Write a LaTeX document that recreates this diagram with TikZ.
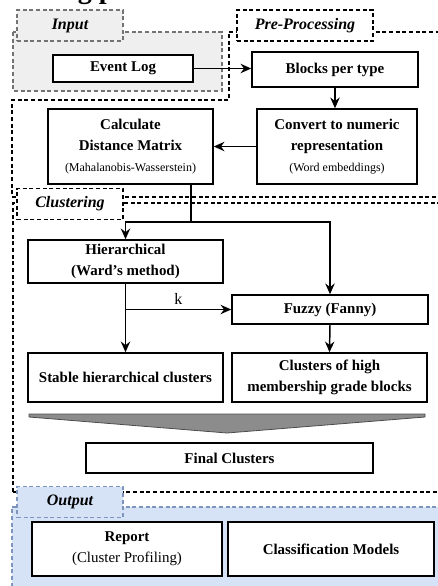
\documentclass[tikz,border=0pt]{standalone}
\usepackage{fontspec}
\setmainfont{Liberation Serif}
\usetikzlibrary{arrows.meta, positioning, calc}
\definecolor{infill}{RGB}{239,239,239}
\definecolor{outfill}{RGB}{214,227,246}
\definecolor{outdraw}{RGB}{125,148,190}
\newlength{\pxunit}
\setlength{\pxunit}{0.75pt}
\newcommand{\subtxt}{\mdseries\fontsize{9}{16}\selectfont}

\begin{document}
\begin{tikzpicture}[
    x=\pxunit, y=-\pxunit,
    box/.style={draw, line width=1.1pt, fill=white, align=center, inner sep=1pt,
                font=\bfseries\fontsize{11.2}{16}\selectfont},
    region/.style={dash pattern=on 3pt off 2pt, line width=0.9pt},
    tab/.style={region, draw, minimum width=106\pxunit, minimum height=31\pxunit,
                font=\bfseries\itshape\fontsize{12}{14}\selectfont},
    arrow/.style={-{Stealth[length=8pt, width=7pt]}, line width=1.1pt},
    funnel/.style={fill=black!45, draw=black!70, line width=0.6pt}
]
\useasboundingbox (0,0) rectangle (438,586);
\clip (0,0) rectangle (438,586);

% Title (cut off at the top)
\node[anchor=south west, font=\bfseries\fontsize{21}{24}\selectfont, inner sep=0pt]
    (title) at (-22,5) {Modeling phase};

% Regions
\fill[outfill] (12,507) rectangle (450,600);
\draw[region, outdraw] (12,600) -- (12,507) -- (450,507);
\draw[region, black] (13,492) -- (13,203) -- (450,203) (13,492) -- (450,492);
\draw[region, black] (229,32) -- (450,32) -- (450,197) -- (12,197) -- (12,100) -- (229,100) -- cycle;
\filldraw[region, fill=infill, draw=black!55] (13,32) rectangle (222,91);

% Tabs
\node[tab, fill=infill, draw=black!55] (intab) at (70,25.5) {Input};
\node[tab, fill=white, minimum width=136\pxunit] (pretab) at (305,25.5) {Pre-Processing};
\node[tab, fill=white] (clutab) at (70,204) {Clustering};
\node[tab, fill=outfill, draw=outdraw] (outtab) at (70,502) {Output};

% Blocks
\node[box, minimum width=140\pxunit, minimum height=27\pxunit] (evlog) at (123,68.5) {Event Log};
\node[box, minimum width=166\pxunit, minimum height=35\pxunit] (blocks) at (335,69.5) {Blocks per type};
\node[box, minimum width=165\pxunit, minimum height=75\pxunit] (calc) at (130.5,146.5)
    {Calculate\\Distance Matrix\\{\subtxt (Mahalanobis-Wasserstein)}};
\node[box, minimum width=160\pxunit, minimum height=75\pxunit] (conv) at (337,146.5)
    {Convert to numeric\\representation\\{\subtxt (Word embeddings)}};
\node[box, minimum width=195\pxunit, minimum height=43\pxunit] (hier) at (125.5,261.5)
    {Hierarchical\\(Ward's method)};
\node[box, minimum width=196\pxunit, minimum height=29\pxunit] (fuzzy) at (330,309.5) {Fuzzy (Fanny)};
\node[box, minimum width=195\pxunit, minimum height=49\pxunit] (stable) at (125.5,377.5)
    {Stable hierarchical clusters};
\node[box, minimum width=195\pxunit, minimum height=49\pxunit] (chigh) at (329.5,377.5)
    {Clusters of high\\membership grade blocks};
\node[box, minimum width=287\pxunit, minimum height=30\pxunit] (final) at (229.5,458) {Final Clusters};
\node[box, minimum width=190\pxunit, minimum height=54\pxunit] (report) at (127,549)
    {Report\\{\mdseries (Cluster Profiling)}};
\node[box, minimum width=206\pxunit, minimum height=54\pxunit] (classif) at (331,549)
    {Classification Models};

% Funnel into final clusters
\filldraw[funnel] (29,414) -- (425,414) -- (425,417) -- (227,433) -- (29,417) -- cycle;

% Connectors
\draw[arrow] (evlog.east) -- (evlog.east -| blocks.west);
\draw[arrow] (blocks.south) -- (conv.north -| blocks.south);
\draw[arrow] (conv.west) -- (calc.east);

\coordinate (split) at (191,222);
\draw[line width=1.1pt] (calc.south -| split) -- (split);
\draw[arrow] (split) -| (hier.north);
\draw[arrow] (split) -| (fuzzy.north);

\coordinate (kpt) at (hier.south |- fuzzy.west);
\draw[arrow] (hier.south) -- (stable.north);
\draw[arrow] (kpt) -- (fuzzy.west)
    node[midway, above, font=\fontsize{12}{14}\selectfont] (klbl) {k};
\draw[arrow] (fuzzy.south) -- (chigh.north);

\end{tikzpicture}
\end{document}
